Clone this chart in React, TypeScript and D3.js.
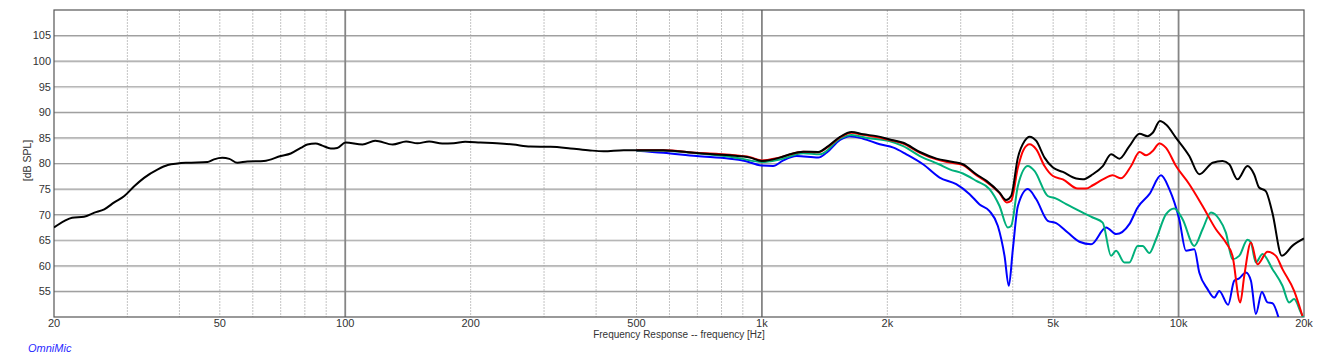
import React from "react";
import * as d3 from "d3";

type Pt = [number, number]; // [frequency Hz, dB SPL]

const blackSeries: Pt[] = [
  [20, 67.5], [21.2, 68.8], [22.1, 69.4], [23.6, 69.6], [25, 70.4], [26.4, 71.05], [27.9, 72.4],
  [29.5, 73.65], [31.2, 75.6], [32.9, 77.2], [35.5, 78.85], [37.5, 79.7], [39.6, 80.0], [41.8, 80.15],
  [46.7, 80.3], [48.4, 80.8], [50.7, 81.1], [52.7, 80.9], [55.1, 80.15], [58.2, 80.4], [63.8, 80.5],
  [70, 81.45], [74, 81.95], [78.2, 83.05], [81.1, 83.7], [84.9, 83.9], [88.1, 83.5], [92.3, 82.95],
  [95.7, 83.05], [100.2, 84.1], [110, 83.7], [118, 84.45], [130, 83.7], [140, 84.3], [149, 83.95],
  [159, 84.3], [171, 83.9], [182, 83.95], [194, 84.25], [211, 84.1], [231, 83.95], [253, 83.7],
  [278, 83.3], [311, 83.25], [347, 82.95], [387, 82.55], [417, 82.4], [466, 82.6], [580, 82.6],
  [697, 82.05], [838, 81.6], [936, 81.15], [1000, 80.5], [1104, 81.15], [1167, 81.8], [1257, 82.3],
  [1365, 82.25], [1443, 83.4], [1540, 85.2], [1641, 86.15], [1750, 85.7], [1885, 85.35], [2028, 84.7],
  [2184, 84.05], [2394, 82.25], [2625, 80.95], [2877, 80.3], [3036, 79.85], [3270, 77.9], [3460, 76.6],
  [3718, 74.3], [3855, 72.85], [3964, 73.65], [4115, 81.15], [4270, 84.4], [4390, 85.25], [4555, 84.4],
  [4767, 81.15], [4994, 79.2], [5276, 78.35], [5680, 77.05], [5890, 76.9], [6225, 77.9], [6580, 79.5],
  [6890, 81.8], [7215, 80.95], [7620, 83.4], [8060, 85.8], [8430, 85.35], [8670, 86.0], [9020, 88.3],
  [9330, 87.6], [9860, 85.0], [10610, 81.45], [11210, 77.9], [12070, 80.15], [12750, 80.5],
  [13230, 79.85], [13850, 76.9], [14630, 79.5], [15180, 77.9], [15600, 75.3], [16190, 74.6],
  [16790, 70.4], [17700, 61.95], [18750, 63.9], [20000, 65.35],
];

const redSeries: Pt[] = [
  [500, 82.6], [580, 82.6], [697, 82.1], [838, 81.7], [936, 81.25], [1000, 80.6], [1104, 81.2],
  [1257, 82.3], [1365, 82.2], [1443, 83.3], [1540, 85.1], [1641, 86.0], [1750, 85.6], [1885, 85.2],
  [2028, 84.6], [2184, 83.9], [2394, 82.1], [2625, 80.8], [2822, 80.2], [3036, 79.7], [3270, 77.7],
  [3460, 76.4], [3718, 74.2], [3870, 72.4], [3964, 72.7], [4115, 79.2], [4250, 82.75], [4390, 83.75],
  [4555, 82.75], [4767, 79.5], [4994, 77.55], [5276, 76.9], [5728, 75.1], [6002, 75.1], [6225, 75.75],
  [6580, 76.9], [6948, 77.7], [7278, 77.1], [7692, 79.5], [8060, 82.25], [8354, 81.6], [8670, 82.45],
  [8992, 83.9], [9330, 83.05], [9860, 79.5], [10610, 75.95], [11418, 71.7], [12292, 67.15],
  [12988, 64.55], [13470, 61.95], [14060, 52.85], [14376, 58.05], [14916, 64.55], [15470, 60.3],
  [16346, 62.75], [17120, 61.95], [17756, 59.35], [18938, 55.1], [19826, 50.2],
];

const greenSeries: Pt[] = [
  [500, 82.5], [580, 82.5], [697, 82.0], [838, 81.3], [885, 81.0], [1000, 80.3], [1104, 80.8],
  [1257, 82.0], [1380, 81.8], [1540, 84.85], [1641, 85.55], [1790, 85.0], [2020, 84.4], [2184, 83.4],
  [2394, 81.45], [2660, 79.85], [2822, 78.85], [3036, 78.05], [3270, 76.6], [3518, 75.0], [3718, 71.7],
  [3892, 67.5], [3964, 67.8], [4115, 75.6], [4348, 79.5], [4510, 78.55], [4853, 73.65], [5084, 73.15],
  [5374, 72.05], [5888, 70.4], [6222, 69.45], [6575, 68.45], [6888, 61.95], [7080, 62.95],
  [7414, 60.65], [7618, 60.65], [7976, 63.9], [8200, 63.9], [8510, 62.5], [8830, 65.2], [9332, 70.1],
  [9768, 71.2], [10224, 69.1], [10908, 63.9], [11418, 67.15], [11958, 70.4], [12520, 69.1],
  [12988, 66.5], [13470, 61.3], [13980, 61.95], [14636, 65.1], [14916, 64.55], [15328, 60.65],
  [15900, 62.3], [16804, 59.35], [17756, 56.1], [18420, 52.85], [18938, 53.5], [19648, 50.9],
  [20000, 49.5],
];

const blueSeries: Pt[] = [
  [500, 82.5], [580, 82.1], [697, 81.45], [838, 80.95], [900, 80.6], [998, 79.6], [1064, 79.5],
  [1120, 80.5], [1210, 81.45], [1365, 81.15], [1429, 82.1], [1540, 84.6], [1625, 85.35], [1750, 84.85],
  [1918, 83.75], [2069, 83.1], [2222, 81.8], [2436, 79.85], [2670, 77.25], [2927, 75.95], [3152, 74.0],
  [3330, 72.0], [3518, 70.7], [3684, 67.8], [3822, 61.95], [3914, 56.1], [4002, 63.25], [4115, 71.7],
  [4348, 75.0], [4555, 73.0], [4853, 68.8], [5084, 68.35], [5420, 66.5], [5782, 64.7], [6166, 64.2],
  [6700, 67.5], [7080, 66.2], [7618, 68.15], [7976, 71.4], [8510, 74.0], [9076, 77.7], [9502, 75.0],
  [10038, 69.1], [10416, 62.95], [10908, 63.25], [11212, 58.7], [11736, 55.45], [12180, 53.8],
  [12520, 55.1], [13154, 52.4], [13600, 57.1], [13980, 57.55], [14508, 58.7], [14916, 57.1],
  [15328, 50.6], [15848, 54.9], [16346, 52.85], [16804, 52.7], [17372, 49.9],
];

const series = [
  { name: "blue", color: "#0000ff", data: blueSeries },
  { name: "green", color: "#00b07a", data: greenSeries },
  { name: "red", color: "#ff0000", data: redSeries },
  { name: "black", color: "#000000", data: blackSeries },
];

const yTicks = [55, 60, 65, 70, 75, 80, 85, 90, 95, 100, 105];
const xLabelTicks = [20, 50, 100, 200, 500, 1000, 2000, 5000, 10000, 20000];
const xMajorGrid = [100, 1000, 10000];

const fmtHz = (f: number) => (f >= 1000 ? `${f / 1000}k` : `${f}`);

export default function App() {
  const width = 1317;
  const height = 362;
  const left = 54;
  const right = 1304;
  const top = 10;
  const bottom = 317;

  const x = d3.scaleLog().domain([20, 20000]).range([left, right]);
  const y = d3.scaleLinear().domain([50, 110]).range([bottom, top]);

  const minorGrid: number[] = [];
  [10, 100, 1000, 10000].forEach((dec) => {
    for (let k = 2; k <= 9; k++) {
      const f = dec * k;
      if (f > 20 && f < 20000) minorGrid.push(f);
    }
  });

  const line = d3
    .line<Pt>()
    .x((d) => x(d[0]))
    .y((d) => y(d[1]))
    .curve(d3.curveMonotoneX);

  const font = "'Liberation Sans', Arial, Helvetica, sans-serif";

  return (
    <svg
      width={width}
      height={height}
      style={{ position: "absolute", left: 0, top: 0, background: "#fff" }}
      fontFamily={font}
    >
      <defs>
        <clipPath id="plot">
          <rect x={left} y={top} width={right - left} height={bottom - top} />
        </clipPath>
      </defs>

      {/* minor vertical grid */}
      {minorGrid.map((f) => (
        <line
          key={`mv${f}`}
          x1={x(f)}
          x2={x(f)}
          y1={top}
          y2={bottom}
          stroke="#c4c4c4"
          strokeWidth={1}
          strokeDasharray="2,1"
        />
      ))}

      {/* horizontal grid */}
      {yTicks.map((t) => (
        <g key={`h${t}`}>
          <line x1={left} x2={right} y1={y(t) + 1} y2={y(t) + 1} stroke="#dedede" strokeWidth={1} />
          <line x1={left} x2={right} y1={y(t)} y2={y(t)} stroke="#a0a0a0" strokeWidth={1.2} />
        </g>
      ))}

      {/* major vertical grid */}
      {xMajorGrid.map((f) => (
        <line
          key={`Mv${f}`}
          x1={x(f)}
          x2={x(f)}
          y1={top}
          y2={bottom}
          stroke="#858585"
          strokeWidth={1.8}
        />
      ))}

      {/* frame */}
      <rect
        x={left}
        y={top}
        width={right - left}
        height={bottom - top}
        fill="none"
        stroke="#555"
        strokeWidth={1.2}
      />

      {/* curves */}
      <g clipPath="url(#plot)">
        {series.map((s) => (
          <path
            key={s.name}
            d={line(s.data) || ""}
            fill="none"
            stroke={s.color}
            strokeWidth={2}
            strokeLinejoin="round"
          />
        ))}
      </g>

      {/* y tick labels */}
      {yTicks.map((t) => (
        <text
          key={`yl${t}`}
          x={left - 3}
          y={y(t)}
          dy="0.35em"
          textAnchor="end"
          fontSize={11}
          fill="#333"
        >
          {t}
        </text>
      ))}

      {/* x tick labels */}
      {xLabelTicks.map((f) => (
        <text
          key={`xl${f}`}
          x={x(f)}
          y={bottom + 10}
          textAnchor="middle"
          fontSize={11}
          fill="#333"
        >
          {fmtHz(f)}
        </text>
      ))}

      <text
        x={(left + right) / 2}
        y={bottom + 21}
        textAnchor="middle"
        fontSize={10}
        fill="#333"
      >
        Frequency Response -- frequency [Hz]
      </text>

      <text
        transform={`translate(31,${(top + bottom) / 2 - 3}) rotate(-90)`}
        textAnchor="middle"
        fontSize={10.5}
        fill="#333"
      >
        [dB SPL]
      </text>

      <text x={28} y={352} fontSize={11} fontStyle="italic" fill="#2a2aff">
        OmniMic
      </text>
    </svg>
  );
}
